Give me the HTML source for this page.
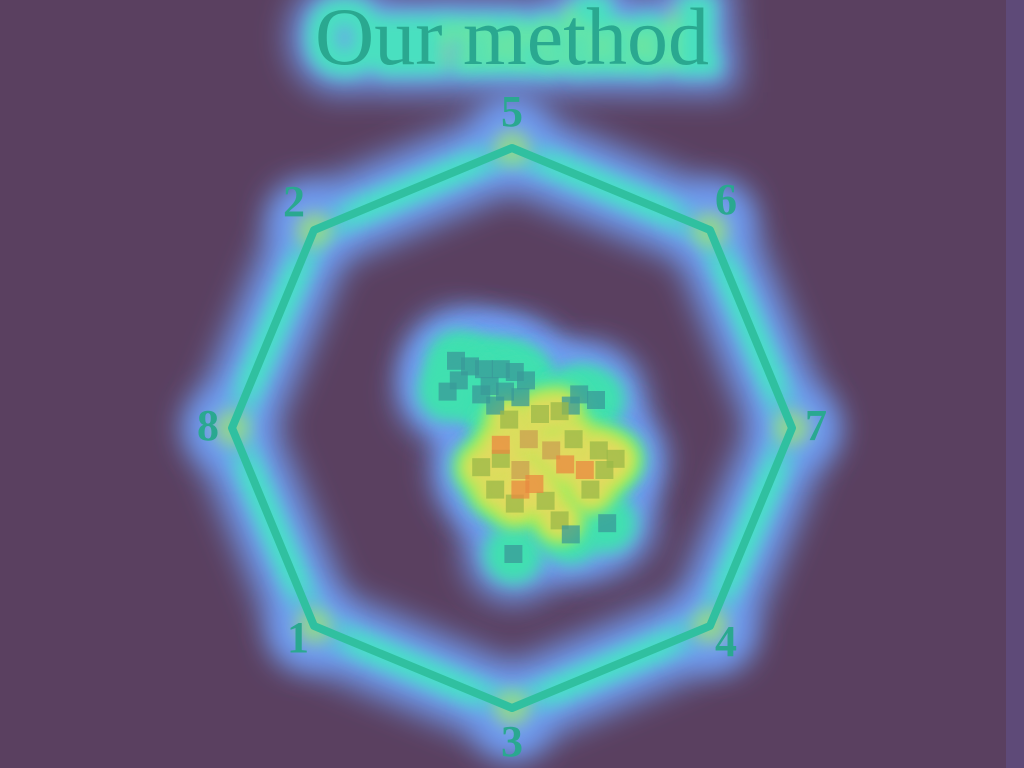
<!DOCTYPE html>
<html><head><meta charset="utf-8"><style>
html,body{margin:0;padding:0;background:#5a4060;}
svg{display:block}
</style></head><body>
<svg id="chart" width="1024" height="768" viewBox="0 0 1024 768" xmlns="http://www.w3.org/2000/svg">
<defs>
<filter id="b1" x="-50%" y="-50%" width="200%" height="200%"><feGaussianBlur stdDeviation="16"/></filter>
<filter id="b2" x="-50%" y="-50%" width="200%" height="200%"><feGaussianBlur stdDeviation="8"/></filter>
<filter id="b3" x="-50%" y="-50%" width="200%" height="200%"><feGaussianBlur stdDeviation="3"/></filter>
</defs>
<rect x="0" y="0" width="1024" height="768" fill="#5a4060"/>
<rect x="1006" y="0" width="18" height="768" fill="#5e4a78"/>
<g id="title-glow">
<text x="512" y="64" text-anchor="middle" font-family="Liberation Serif, serif" font-size="82" fill="#6f9cf2" stroke="#6f9cf2" stroke-width="56" filter="url(#b1)">Our method</text>
<text x="512" y="64" text-anchor="middle" font-family="Liberation Serif, serif" font-size="82" fill="#4ae0c0" stroke="#4ae0c0" stroke-width="24" filter="url(#b2)">Our method</text>
<text x="560" y="64" text-anchor="middle" font-family="Liberation Serif, serif" font-size="82" fill="#b8f060" filter="url(#b2)" opacity="0.6">method</text>
</g>
<text x="512" y="64" text-anchor="middle" font-family="Liberation Serif, serif" font-size="82" fill="#2aa890">Our method</text>
<g id="glow"></g>
<g id="marks"></g>
</svg>
<script>
const nodeLabels = ['5','6','7','4','3','1','8','2'];
const nodeAngles = [90,45,0,-45,-90,-135,180,135];
const ptU = [-20,-15,-10,-4,1,5,-8,-2.5,-11,-19,-6,3,-23,24,30,21,-1,10,17,6,14,22,31,37,3,-4,-6,1,12,17,28,33,3,8,26,-4,19,0.5,21,34,-11];
const ptV = [24,22,21,21,20,17,15,13,12,17,8,11,13,12,10,8,3,5,6,-4,-8,-4,-8,-11,-15,-11,-22,-27,-26,-33,-22,-15,-22,-20,-15,-6,-13,-45,-38,-34,-14];
const ptHeat = [0,0,0,0,0,0,0,0,0,0,0,0,0,0,0,0,1,1,1,2,2,1,1,1,2,1,1,1,1,1,1,1,3,3,3,3,3,0,0,0,1];
const heatColors = ['#3a9a98','#9ab848','#c8a050','#e88a40'];
const cx = 512, cy = 428, R = 280;
const xs = u => cx + u * R / 100;
const ys = v => cy - v * R / 100;
const NS = 'http://www.w3.org/2000/svg';
const glow = document.getElementById('glow');
const marks = document.getElementById('marks');
function mk(tag, attrs, parent){const e=document.createElementNS(NS,tag);for(const k in attrs)e.setAttribute(k,attrs[k]);parent.appendChild(e);return e;}
const verts = nodeAngles.map(a => [cx + R*Math.cos(a*Math.PI/180), cy - R*Math.sin(a*Math.PI/180)]);
const pts = verts.map(v => v.join(',')).join(' ');
mk('polygon',{points:pts,fill:'none',stroke:'#6f9cf2','stroke-width':80,'stroke-linejoin':'round',filter:'url(#b1)'},glow);
mk('polygon',{points:pts,fill:'none',stroke:'#48e0c8','stroke-width':30,'stroke-linejoin':'round',filter:'url(#b2)'},glow);
const labelOff = [[0,-22],[16,-16],[24,12],[16,30],[0,48],[-16,26],[-24,12],[-20,-14]];
verts.forEach((v,i)=>{
  mk('circle',{cx:v[0]+labelOff[i][0]*0.5,cy:v[1]+labelOff[i][1]*0.5-6,r:34,fill:'#6f9cf2',filter:'url(#b1)'},glow);
  mk('circle',{cx:v[0],cy:v[1],r:18,fill:'#9ee870',filter:'url(#b2)',opacity:0.7},glow);
});
for(let i=0;i<ptU.length;i++){
  mk('circle',{cx:xs(ptU[i]),cy:ys(ptV[i]),r:48,fill:'#6f9cf2',filter:'url(#b1)'},glow);
}
for(let i=0;i<ptU.length;i++){
  mk('circle',{cx:xs(ptU[i]),cy:ys(ptV[i]),r:30,fill:'#40e0b0',filter:'url(#b2)'},glow);
}
for(let i=0;i<ptU.length;i++){
  if(ptHeat[i]>0) mk('circle',{cx:xs(ptU[i]),cy:ys(ptV[i]),r:24,fill:'#a8f050',filter:'url(#b2)'},glow);
}
for(let i=0;i<ptU.length;i++){
  if(ptHeat[i]>0) mk('circle',{cx:xs(ptU[i]),cy:ys(ptV[i]),r:16,fill:'#e8d860',filter:'url(#b2)'},glow);
}
const edge = mk('polygon',{points:pts,fill:'none',stroke:'#30c0a0','stroke-width':8,'stroke-linejoin':'round'},marks);


verts.forEach((v,i)=>{
  const t = mk('text',{x:v[0]+labelOff[i][0],y:v[1]+labelOff[i][1],'text-anchor':'middle','font-family':'Liberation Serif, serif','font-size':44,'font-weight':'bold',fill:'#2aa890'},marks);
  t.textContent = nodeLabels[i];
  
  
});
for(let i=0;i<ptU.length;i++){
  const s = 18;
  const r = mk('rect',{x:xs(ptU[i])-s/2,y:ys(ptV[i])-s/2,width:s,height:s,fill:heatColors[ptHeat[i]],opacity:0.75},marks);
  
  
}
</script>
</body></html>
